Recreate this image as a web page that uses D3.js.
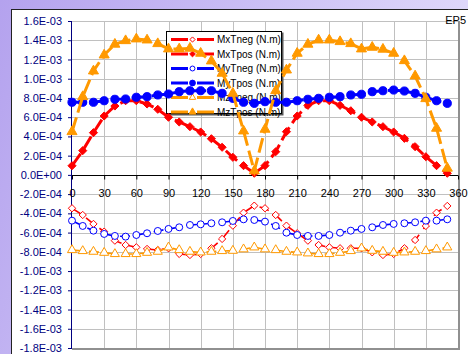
<!DOCTYPE html>
<html>
<head>
<meta charset="utf-8">
<script src="https://cdn.jsdelivr.net/npm/d3@7"></script>
<style>
  body { margin:0; padding:0; background:#fff; }
  text { font-family: "Liberation Sans", Arial, sans-serif; }
</style>
</head>
<body>
<div class="visualisation"></div>
<script>
//----------------------------------------------------------------------------------------------------------------------------
//DATA  (moments in units of 1E-04 N.m, one point every 10 degrees)
//----------------------------------------------------------------------------------------------------------------------------
var angles = [0,10,20,30,40,50,60,70,80,90,100,110,120,130,140,150,160,170,
              180,190,200,210,220,230,240,250,260,270,280,290,300,310,320,330,340,350];

var mxTneg = [-3.47,-4.17,-5.10,-5.90,-6.84,-7.29,-7.53,-7.70,-7.81,-7.63,-8.22,-8.33,-8.22,-7.63,-6.66,-5.28,-3.93,-3.20,
              -3.47,-4.17,-5.28,-6.07,-6.84,-7.29,-7.53,-7.63,-7.63,-7.63,-8.05,-8.33,-8.22,-7.63,-6.77,-5.31,-3.93,-3.23];
var mxTpos = [0.95,2.52,4.39,6.12,7.16,7.71,7.71,7.37,6.82,5.99,5.50,5.01,4.46,3.76,2.87,1.83,0.96,0.17,
              0.96,2.41,4.49,6.12,7.23,7.71,7.71,7.23,6.67,5.99,5.50,5.01,4.46,3.80,2.93,1.89,0.96,0.17];
var myTneg = [-4.76,-5.31,-5.80,-6.14,-6.35,-6.42,-6.25,-6.07,-5.83,-5.62,-5.45,-5.21,-5.14,-5.03,-4.93,-4.79,-4.62,-4.69,
              -4.86,-5.31,-6.01,-6.25,-6.35,-6.35,-6.25,-6.01,-5.80,-5.62,-5.45,-5.21,-5.10,-5.03,-4.93,-4.76,-4.76,-4.62];
var myTpos = [7.55,7.55,7.55,7.71,7.86,7.89,8.07,8.13,8.31,8.41,8.65,8.75,8.75,8.75,8.48,7.96,7.55,7.44,
              7.61,7.55,7.55,7.71,7.86,7.96,8.07,8.13,8.31,8.38,8.65,8.75,8.82,8.72,8.48,8.07,7.71,7.44];
var mzTneg = [-7.81,-7.91,-7.98,-8.09,-8.22,-8.22,-8.22,-8.09,-7.98,-7.53,-7.81,-7.98,-8.05,-7.98,-7.91,-7.88,-7.73,-7.53,
              -7.73,-7.81,-7.98,-8.05,-8.15,-8.22,-8.22,-8.09,-7.91,-7.63,-7.88,-7.98,-8.09,-8.05,-7.98,-7.91,-7.73,-7.53];
var mzTpos = [4.49,8.13,10.80,12.46,13.58,13.95,14.13,14.02,13.64,13.09,13.09,13.16,12.64,11.84,10.56,8.48,4.56,0.41,
              4.74,8.75,10.90,12.64,13.58,14.02,14.02,13.85,13.64,13.09,13.26,13.06,12.64,11.87,10.28,7.92,4.84,0.69];

var xTicks = [0,30,60,90,120,150,180,210,240,270,300,330,360];
var yTicks = [-18,-16,-14,-12,-10,-8,-6,-4,-2,0,2,4,6,8,10,12,14,16];

var seriesNames = ["MxTneg (N.m)","MxTpos (N.m)","MyTneg (N.m)","MyTpos (N.m)","MzTneg (N.m)","MzTpos (N.m)"];
var seriesValues = [mxTneg, mxTpos, myTneg, myTpos, mzTneg, mzTpos];
var chartTitle = "EP5";

//----------------------------------------------------------------------------------------------------------------------------
//STYLE PER SERIES
//----------------------------------------------------------------------------------------------------------------------------
var red = "#ff0000", blue = "#0000ff", orange = "#ff9900";
var styles = [
	{color: red,    symbol: d3.symbolDiamond2, size: 34, open: true},
	{color: red,    symbol: d3.symbolDiamond2, size: 42, open: false},
	{color: blue,   symbol: d3.symbolCircle,   size: 38, open: true},
	{color: blue,   symbol: d3.symbolCircle,   size: 52, open: false},
	{color: orange, symbol: d3.symbolTriangle, size: 36, open: true},
	{color: orange, symbol: d3.symbolTriangle, size: 44, open: false}
];

//----------------------------------------------------------------------------------------------------------------------------
//CANVAS
//----------------------------------------------------------------------------------------------------------------------------
var W = 468, H = 354;
var svg = d3.select(".visualisation").append("svg")
	.attr("width", W).attr("height", H);

var defs = svg.append("defs");
var grad = defs.append("linearGradient").attr("id", "bg")
	.attr("x1", 0).attr("y1", 0).attr("x2", 1).attr("y2", 0.3);
grad.append("stop").attr("offset", "0%").attr("stop-color", "#b4a2ee");
grad.append("stop").attr("offset", "100%").attr("stop-color", "#e2dcfb");

svg.append("rect").attr("width", W).attr("height", H).attr("fill", "url(#bg)");
svg.append("rect")
	.attr("x", 11.5).attr("y", 9.5).attr("width", W).attr("height", H)
	.attr("fill", "#fff").attr("stroke", "#222").attr("stroke-width", 1);

//----------------------------------------------------------------------------------------------------------------------------
//SCALES
//----------------------------------------------------------------------------------------------------------------------------
var plot = {left: 72, right: 458, top: 21, bottom: 348};
var x = d3.scaleLinear().domain([0, 360]).range([plot.left, plot.right]);
var y = d3.scaleLinear().domain([-18, 16]).range([plot.bottom, plot.top]);

function sciLabel(v){
	var s = (v * 1e-4).toExponential(1).toUpperCase();
	return s.replace(/E([+-])(\d)$/, "E$10$2");
}

//gridlines
var grid = svg.append("g").attr("class", "grid");
grid.selectAll(".hg").data(yTicks).enter().append("line")
	.attr("x1", plot.left).attr("x2", plot.right)
	.attr("y1", function(d){ return Math.round(y(d)) + 0.5; })
	.attr("y2", function(d){ return Math.round(y(d)) + 0.5; })
	.attr("stroke", "#c0c0c0");
grid.selectAll(".vg").data(xTicks.slice(1)).enter().append("line")
	.attr("y1", plot.top).attr("y2", plot.bottom)
	.attr("x1", function(d){ return Math.round(x(d)) + 0.5; })
	.attr("x2", function(d){ return Math.round(x(d)) + 0.5; })
	.attr("stroke", "#c0c0c0");

//plot area shadow border (right / bottom)
svg.append("path")
	.attr("d", "M" + (plot.right + 1) + "," + plot.top + "V" + (plot.bottom + 1) + "H" + plot.left)
	.attr("fill", "none").attr("stroke", "#909090").attr("stroke-width", 2);

//----------------------------------------------------------------------------------------------------------------------------
//AXES
//----------------------------------------------------------------------------------------------------------------------------
var yAxis = svg.append("g")
	.attr("transform", "translate(" + plot.left + ",0)")
	.call(d3.axisLeft(y).tickValues(yTicks).tickFormat(sciLabel).tickSize(4).tickPadding(6));
yAxis.select(".domain").attr("stroke", "#000080").attr("d", "M-0.5," + plot.top + "V" + plot.bottom);
yAxis.selectAll(".tick line").attr("stroke", "#000080");
yAxis.selectAll("text").attr("fill", "#000080").style("font-size", "11px")
	.style("font-family", "'Liberation Sans', Arial, sans-serif");

var xAxis = svg.append("g")
	.attr("transform", "translate(0," + (Math.round(y(0)) + 0.5) + ")")
	.call(d3.axisBottom(x).tickValues(xTicks).tickSize(4).tickPadding(10));
xAxis.select(".domain").attr("stroke", "#000").attr("d", "M" + plot.left + ",0H" + plot.right);
xAxis.selectAll(".tick line").attr("stroke", "#000");
xAxis.selectAll("text").attr("fill", "#000").style("font-size", "11px")
	.style("font-family", "'Liberation Sans', Arial, sans-serif");

//title in the corner
svg.append("text")
	.attr("x", 466).attr("y", 24)
	.attr("text-anchor", "end")
	.style("font-size", "11px")
	.attr("fill", "#000")
	.text(chartTitle);

//----------------------------------------------------------------------------------------------------------------------------
//LEGEND (sits behind the series, as in the original)
//----------------------------------------------------------------------------------------------------------------------------
var lg = svg.append("g").attr("class", "legend").attr("transform", "translate(166,31)");
lg.append("rect").attr("x", 1.5).attr("y", 1.5).attr("width", 116).attr("height", 83).attr("fill", "#555");
lg.append("rect").attr("x", 0.5).attr("y", 0.5).attr("width", 115).attr("height", 82)
	.attr("fill", "#fff").attr("stroke", "#000");

seriesNames.forEach(function(name, i){
	var st = styles[i], ry = 8.5 + i * 14.5;
	lg.append("line").attr("x1", 5).attr("x2", 22).attr("y1", ry).attr("y2", ry)
		.attr("stroke", st.color).attr("stroke-width", 3);
	lg.append("line").attr("x1", 31).attr("x2", 48).attr("y1", ry).attr("y2", ry)
		.attr("stroke", st.color).attr("stroke-width", 3);
	lg.append("path")
		.attr("d", d3.symbol().type(st.symbol).size(st.size * 0.5)())
		.attr("transform", "translate(26.5," + ry + ")")
		.attr("fill", st.open ? "#fff" : st.color)
		.attr("stroke", st.color).attr("stroke-width", 1);
	lg.append("text").attr("x", 51).attr("y", ry + 3.5)
		.style("font-size", "10px").attr("fill", "#000").text(name);
});

//----------------------------------------------------------------------------------------------------------------------------
//SERIES
//----------------------------------------------------------------------------------------------------------------------------
var line = d3.line()
	.x(function(d){ return x(d.a); })
	.y(function(d){ return y(d.v); });

seriesValues.forEach(function(vals, i){
	var st = styles[i];
	var pts = angles.map(function(a, k){ return {a: a, v: vals[k]}; });
	var g = svg.append("g").attr("class", "series s" + i);
	g.append("path").datum(pts)
		.attr("d", line)
		.attr("fill", "none")
		.attr("stroke", st.color)
		.attr("stroke-width", st.open ? 1.6 : 3)
		.attr("stroke-dasharray", st.open ? "10,7" : "15,5");
	g.selectAll(".mk").data(pts).enter().append("path")
		.attr("d", d3.symbol().type(st.symbol).size(st.size))
		.attr("transform", function(d){ return "translate(" + x(d.a) + "," + y(d.v) + ")"; })
		.attr("fill", st.open ? "#fff" : st.color)
		.attr("stroke", st.color)
		.attr("stroke-width", 1);
});
</script>
</body>
</html>
